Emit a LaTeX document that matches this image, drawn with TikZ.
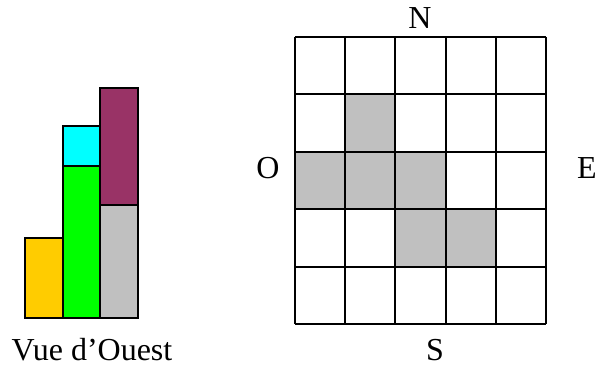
\documentclass[tikz,border=0pt]{standalone}
\usepackage{fontspec}
\setmainfont{Liberation Serif}
\usetikzlibrary{positioning}
\definecolor{barYellow}{HTML}{FFCC00}
\definecolor{barGreen}{HTML}{00FF00}
\definecolor{barCyan}{HTML}{00FFFF}
\definecolor{barGrey}{HTML}{C0C0C0}
\definecolor{barPurple}{HTML}{993366}
\tikzset{
    bar/.style={draw=black, line width=1pt}, % blocks of the side view
    cell/.style={fill=barGrey}, % occupied squares of the top view
    compass/.style={font=\fontsize{16}{19}\selectfont}, % N, S, E, O letters
}

\begin{document}
\begin{tikzpicture}[x=0.5pt, y=-0.5pt]
    \useasboundingbox (0,0) rectangle (598,369);

    % --- Side view ---
    \draw[bar, fill=barYellow] (25,318) rectangle (63,238);
    \draw[bar, fill=barGreen]  (63,318) rectangle (100,166);
    \draw[bar, fill=barCyan]   (63,166) rectangle (100,126);
    \draw[bar, fill=barGrey]   (100,318) rectangle (138,205);
    \draw[bar, fill=barPurple] (100,205) rectangle (138,88);
    \node[compass] (view) at (92,350) {Vue d’Ouest};

    % --- Top view ---
    \begin{scope}[shift={(295,37)}, x=25.1pt, y=-28.7pt]
        \foreach \c/\r in {1/1, 0/2, 1/2, 2/2, 2/3, 3/3}
            \fill[cell] (\c,\r) rectangle ++(1,1);
        \foreach \i in {0,...,5} {
            \draw[line width=1pt] (\i,0) -- (\i,5);
            \draw[line width=1pt] (0,\i) -- (5,\i);
        }
    \end{scope}
    \node[compass] (north) at (420,18) {N};
    \node[compass] (south) at (435,350) {S};
    \node[compass] (west) at (268,168) {O};
    \node[compass] (east) at (587,168) {E};

\end{tikzpicture}
\end{document}
